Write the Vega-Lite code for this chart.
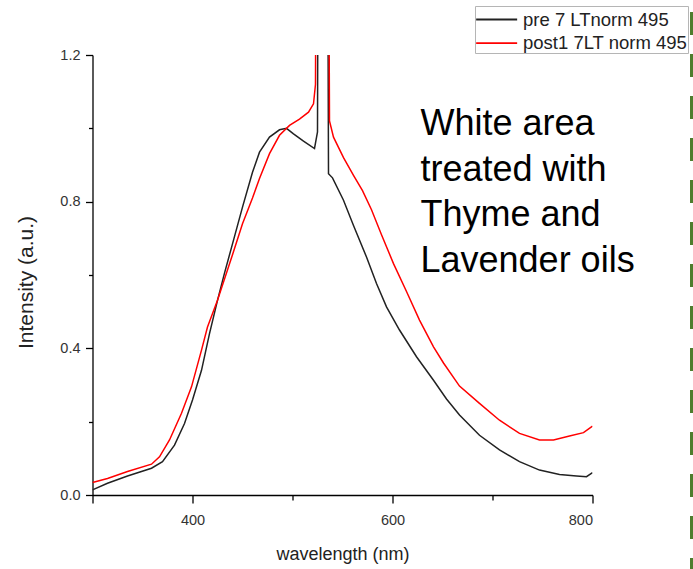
{
  "$schema": "https://vega.github.io/schema/vega-lite/v6.json",
  "width": 500,
  "height": 440,
  "autosize": {"type": "none"},
  "padding": {"left": 92.5, "top": 55, "right": 100.5, "bottom": 74},
  "background": "white",
  "config": {"view": {"stroke": null}, "font": "Liberation Sans"},
  "datasets": {
    "spectra": [
      {"series": "pre 7 LTnorm 495", "wavelength": 300, "intensity": 0.014},
      {"series": "pre 7 LTnorm 495", "wavelength": 315, "intensity": 0.032},
      {"series": "pre 7 LTnorm 495", "wavelength": 335, "intensity": 0.052},
      {"series": "pre 7 LTnorm 495", "wavelength": 359, "intensity": 0.073},
      {"series": "pre 7 LTnorm 495", "wavelength": 370, "intensity": 0.091},
      {"series": "pre 7 LTnorm 495", "wavelength": 382, "intensity": 0.136},
      {"series": "pre 7 LTnorm 495", "wavelength": 392, "intensity": 0.195},
      {"series": "pre 7 LTnorm 495", "wavelength": 400, "intensity": 0.259},
      {"series": "pre 7 LTnorm 495", "wavelength": 409, "intensity": 0.34},
      {"series": "pre 7 LTnorm 495", "wavelength": 417, "intensity": 0.44},
      {"series": "pre 7 LTnorm 495", "wavelength": 425, "intensity": 0.531},
      {"series": "pre 7 LTnorm 495", "wavelength": 432, "intensity": 0.605},
      {"series": "pre 7 LTnorm 495", "wavelength": 440, "intensity": 0.685},
      {"series": "pre 7 LTnorm 495", "wavelength": 450, "intensity": 0.785},
      {"series": "pre 7 LTnorm 495", "wavelength": 460, "intensity": 0.88},
      {"series": "pre 7 LTnorm 495", "wavelength": 467, "intensity": 0.935},
      {"series": "pre 7 LTnorm 495", "wavelength": 477, "intensity": 0.976},
      {"series": "pre 7 LTnorm 495", "wavelength": 487, "intensity": 0.996},
      {"series": "pre 7 LTnorm 495", "wavelength": 494, "intensity": 1.0},
      {"series": "pre 7 LTnorm 495", "wavelength": 501, "intensity": 0.985},
      {"series": "pre 7 LTnorm 495", "wavelength": 511, "intensity": 0.965},
      {"series": "pre 7 LTnorm 495", "wavelength": 522, "intensity": 0.945},
      {"series": "pre 7 LTnorm 495", "wavelength": 525, "intensity": 0.99},
      {"series": "pre 7 LTnorm 495", "wavelength": 530, "intensity": 6},
      {"series": "pre 7 LTnorm 495", "wavelength": 536, "intensity": 0.876},
      {"series": "pre 7 LTnorm 495", "wavelength": 540, "intensity": 0.865},
      {"series": "pre 7 LTnorm 495", "wavelength": 551, "intensity": 0.804},
      {"series": "pre 7 LTnorm 495", "wavelength": 561, "intensity": 0.735},
      {"series": "pre 7 LTnorm 495", "wavelength": 574, "intensity": 0.649},
      {"series": "pre 7 LTnorm 495", "wavelength": 584, "intensity": 0.577},
      {"series": "pre 7 LTnorm 495", "wavelength": 594, "intensity": 0.513},
      {"series": "pre 7 LTnorm 495", "wavelength": 607, "intensity": 0.45},
      {"series": "pre 7 LTnorm 495", "wavelength": 624, "intensity": 0.377},
      {"series": "pre 7 LTnorm 495", "wavelength": 641, "intensity": 0.313},
      {"series": "pre 7 LTnorm 495", "wavelength": 654, "intensity": 0.262},
      {"series": "pre 7 LTnorm 495", "wavelength": 667, "intensity": 0.218},
      {"series": "pre 7 LTnorm 495", "wavelength": 687, "intensity": 0.163},
      {"series": "pre 7 LTnorm 495", "wavelength": 707, "intensity": 0.123},
      {"series": "pre 7 LTnorm 495", "wavelength": 727, "intensity": 0.091},
      {"series": "pre 7 LTnorm 495", "wavelength": 747, "intensity": 0.068},
      {"series": "pre 7 LTnorm 495", "wavelength": 767, "intensity": 0.056},
      {"series": "pre 7 LTnorm 495", "wavelength": 784, "intensity": 0.052},
      {"series": "pre 7 LTnorm 495", "wavelength": 794, "intensity": 0.05},
      {"series": "pre 7 LTnorm 495", "wavelength": 800, "intensity": 0.061},
      {"series": "post1 7LT norm 495", "wavelength": 300, "intensity": 0.034},
      {"series": "post1 7LT norm 495", "wavelength": 315, "intensity": 0.045},
      {"series": "post1 7LT norm 495", "wavelength": 335, "intensity": 0.064},
      {"series": "post1 7LT norm 495", "wavelength": 359, "intensity": 0.084},
      {"series": "post1 7LT norm 495", "wavelength": 367, "intensity": 0.104},
      {"series": "post1 7LT norm 495", "wavelength": 377, "intensity": 0.15},
      {"series": "post1 7LT norm 495", "wavelength": 389, "intensity": 0.223},
      {"series": "post1 7LT norm 495", "wavelength": 399, "intensity": 0.295},
      {"series": "post1 7LT norm 495", "wavelength": 409, "intensity": 0.395},
      {"series": "post1 7LT norm 495", "wavelength": 415, "intensity": 0.458},
      {"series": "post1 7LT norm 495", "wavelength": 425, "intensity": 0.531},
      {"series": "post1 7LT norm 495", "wavelength": 440, "intensity": 0.655},
      {"series": "post1 7LT norm 495", "wavelength": 450, "intensity": 0.74},
      {"series": "post1 7LT norm 495", "wavelength": 460, "intensity": 0.81},
      {"series": "post1 7LT norm 495", "wavelength": 467, "intensity": 0.863},
      {"series": "post1 7LT norm 495", "wavelength": 477, "intensity": 0.931},
      {"series": "post1 7LT norm 495", "wavelength": 487, "intensity": 0.981},
      {"series": "post1 7LT norm 495", "wavelength": 497, "intensity": 1.008},
      {"series": "post1 7LT norm 495", "wavelength": 507, "intensity": 1.025},
      {"series": "post1 7LT norm 495", "wavelength": 516, "intensity": 1.044},
      {"series": "post1 7LT norm 495", "wavelength": 521, "intensity": 1.067},
      {"series": "post1 7LT norm 495", "wavelength": 523, "intensity": 1.12},
      {"series": "post1 7LT norm 495", "wavelength": 529, "intensity": 6},
      {"series": "post1 7LT norm 495", "wavelength": 537, "intensity": 1.02},
      {"series": "post1 7LT norm 495", "wavelength": 541, "intensity": 0.976},
      {"series": "post1 7LT norm 495", "wavelength": 551, "intensity": 0.92},
      {"series": "post1 7LT norm 495", "wavelength": 561, "intensity": 0.872},
      {"series": "post1 7LT norm 495", "wavelength": 570, "intensity": 0.83},
      {"series": "post1 7LT norm 495", "wavelength": 579, "intensity": 0.778},
      {"series": "post1 7LT norm 495", "wavelength": 589, "intensity": 0.71},
      {"series": "post1 7LT norm 495", "wavelength": 601, "intensity": 0.631},
      {"series": "post1 7LT norm 495", "wavelength": 614, "intensity": 0.555},
      {"series": "post1 7LT norm 495", "wavelength": 627, "intensity": 0.477},
      {"series": "post1 7LT norm 495", "wavelength": 641, "intensity": 0.404},
      {"series": "post1 7LT norm 495", "wavelength": 651, "intensity": 0.36},
      {"series": "post1 7LT norm 495", "wavelength": 667, "intensity": 0.297},
      {"series": "post1 7LT norm 495", "wavelength": 687, "intensity": 0.25},
      {"series": "post1 7LT norm 495", "wavelength": 707, "intensity": 0.204},
      {"series": "post1 7LT norm 495", "wavelength": 727, "intensity": 0.168},
      {"series": "post1 7LT norm 495", "wavelength": 747, "intensity": 0.15},
      {"series": "post1 7LT norm 495", "wavelength": 761, "intensity": 0.15},
      {"series": "post1 7LT norm 495", "wavelength": 777, "intensity": 0.161},
      {"series": "post1 7LT norm 495", "wavelength": 791, "intensity": 0.17},
      {"series": "post1 7LT norm 495", "wavelength": 800, "intensity": 0.188}
    ]
  },
  "layer": [
    {
      "data": {"name": "spectra"},
      "mark": {"type": "line", "clip": true, "strokeWidth": 1.5},
      "encoding": {
        "x": {
          "field": "wavelength",
          "type": "quantitative",
          "scale": {"domain": [300, 800], "nice": false, "zero": false},
          "axis": {
            "title": "wavelength (nm)",
            "values": [300, 400, 500, 600, 700, 800],
            "labelExpr": "(datum.value == 400 || datum.value == 600 || datum.value == 800) ? datum.label : ''",
            "tickSize": {"condition": {"test": "datum.value % 200 == 0 || datum.value == 300", "value": 8}, "value": 5},
            "labelPadding": 10,
            "labelFontSize": 14.5,
            "labelColor": "#333333",
            "labelFont": "Liberation Sans",
            "titleFont": "Liberation Sans",
            "titleFontSize": 18,
            "titleFontWeight": "normal",
            "titleColor": "#222222",
            "titleBaseline": "alphabetic",
            "titleX": 250,
            "titleY": 64.6,
            "grid": false,
            "domainColor": "#000000",
            "domainWidth": 1.3,
            "tickColor": "#000000",
            "tickWidth": 1.3
          }
        },
        "y": {
          "field": "intensity",
          "type": "quantitative",
          "scale": {"domain": [0, 1.2], "nice": false, "zero": false},
          "axis": {
            "title": "Intensity (a.u.)",
            "values": [0, 0.2, 0.4, 0.6, 0.8, 1.0, 1.2],
            "labelExpr": "(round(datum.value * 10) % 4 == 0) ? format(datum.value, '.1f') : ''",
            "tickSize": {"condition": {"test": "round(datum.value * 10) % 4 == 0", "value": 7}, "value": 4},
            "labelPadding": 5.5,
            "labelFontSize": 14.5,
            "labelColor": "#333333",
            "labelFont": "Liberation Sans",
            "titleFont": "Liberation Sans",
            "titleFontSize": 21,
            "titleFontWeight": "normal",
            "titleColor": "#222222",
            "titleBaseline": "alphabetic",
            "titleAngle": -90,
            "titleX": -60,
            "titleY": 227,
            "grid": false,
            "domainColor": "#000000",
            "domainWidth": 1.3,
            "tickColor": "#000000",
            "tickWidth": 1.3
          }
        },
        "color": {
          "field": "series",
          "type": "nominal",
          "scale": {"domain": ["pre 7 LTnorm 495", "post1 7LT norm 495"], "range": ["#222222", "#ff0000"]},
          "legend": {
            "title": null,
            "orient": "none",
            "legendX": 382.5,
            "legendY": -49,
            "symbolType": "M-1,0L2.32,0",
            "symbolSize": 610,
            "symbolStrokeWidth": 1.8,
            "labelFontSize": 18.5,
            "labelFont": "Liberation Sans",
            "labelColor": "#222222",
            "labelOffset": 21,
            "labelLimit": 400,
            "rowPadding": 0.7,
            "padding": 0,
            "strokeColor": "#b5b5b5",
            "fillColor": "#ffffff"
          }
        }
      }
    },
    {
      "data": {"values": [{}]},
      "mark": {
        "type": "text",
        "text": ["White area", "treated with", "Thyme and", "Lavender oils"],
        "align": "left",
        "baseline": "alphabetic",
        "fontSize": 36,
        "lineHeight": 45.5,
        "font": "Liberation Sans",
        "color": "#000000",
        "clip": false
      },
      "encoding": {"x": {"datum": 628}, "y": {"datum": 0.981}}
    },
    {
      "data": {"values": [{}]},
      "mark": {"type": "rule", "color": "#4e7d2e", "strokeWidth": 4, "strokeDash": [23, 19], "strokeDashOffset": 30, "clip": false},
      "encoding": {"x": {"datum": 899.5}, "y": {"datum": 1.35}, "y2": {"datum": -0.21}}
    }
  ]
}
